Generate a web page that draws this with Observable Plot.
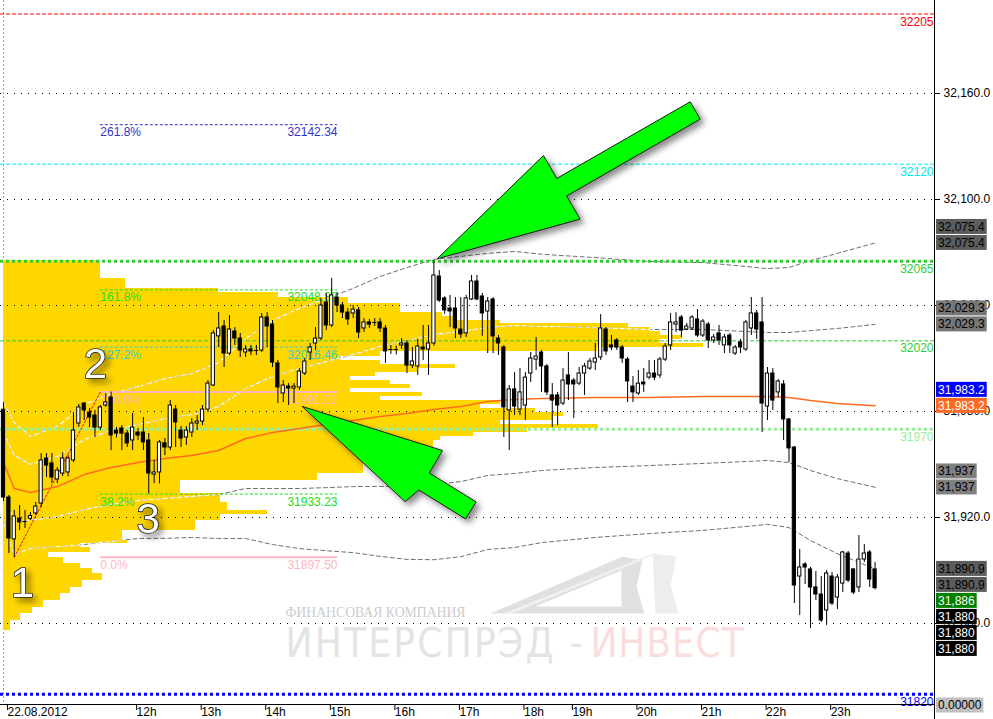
<!DOCTYPE html>
<html><head><meta charset="utf-8">
<script src="https://cdn.jsdelivr.net/npm/d3@7"></script>
<script src="https://cdn.jsdelivr.net/npm/@observablehq/plot@0.6"></script>
<style>
html,body{margin:0;padding:0;background:#fff;}
#chart{width:993px;height:719px;overflow:hidden;}
</style></head>
<body><div id="chart"></div>
<script>
// ---------------- DATA ----------------
const barOpen = [31981,31931.3,31907.6,31919.4,31917.7,31919.3,31922.3,31927.9,31953.4,31950.6,
31941.5,31944.9,31945.5,31952.3,31973.2,31984.5,31979.4,31977.7,31970.9,31983.4,
31987.9,31969.2,31970.4,31967.5,31963.6,31968.1,31968.1,31963.6,31944.3,31945.5,
31962,31959.6,31981.1,31969.2,31965.3,31968.1,31973.2,31974.3,31981.1,31994.7,
32022.5,32028.1,32012.8,32025.3,32021.3,32013.4,32015.1,32014.5,32014.5,32033.2,
32029.2,32007.2,31990.2,31994.1,31993,31993.6,32001.5,32013.4,32018.5,32021.3,
32041.7,32028.7,32044.5,32040,32036,32035.5,32037.2,32027,32030.4,32030.4,
32030.4,32027,32015.1,32015.1,32017.4,32018.5,32006,32005.5,32016.2,32015.1,
32018.5,32056.4,32044,32038.3,32038.3,32026.4,32024.2,32043.4,32053.6,32045.1,
32036.6,32043.4,32021.3,32016.2,31980.6,31992.5,31981.1,31983.4,32001.5,32009.4,
32013.4,32005.5,31989.1,31989.1,31984.5,32000.4,31997.5,31995.8,32001.5,32004.3,
32007.7,32010.6,32026.4,32017.4,32020.2,32016.2,32009.4,31994.1,31990.2,31996.4,
31999.2,32001.5,32000.4,32009.4,32017.4,32029.2,32033.2,32026.4,32027,32032.1,
32023,32029.2,32020.2,32024.2,32017.4,32023,32012.8,32019.1,32015.1,32027,
32035.5,32030.4,31982.8,32001.5,31990.8,31995.3,31975.5,31959.6,31886.6,31893.4,
31890.6,31880.4,31876.4,31867.4,31886.6,31874.7,31882.6,31899.6,31890.6,31880.4,
31896.2,31900.2,31890.6];
const barHigh = [31985,31932.5,31924,31926.8,31924,31922.8,31928.5,31956.2,31956.2,31956.2,
31948.3,31956.8,31955,31979.4,31984,31985.1,31981.7,31980.6,31983.4,31990.2,
31991,31971,31972.1,31969.2,31978.9,31970.4,31976.6,31967.5,31952.3,31963.6,
31964.7,31986.2,31983.4,31971.5,31971.5,31976,31977.7,31983.4,31997.5,32025.8,
32036,32031.5,32034.3,32027.5,32024.2,32017.4,32017.4,32017.4,32035.5,32036,
32031.5,32008.9,31997.5,31995.8,31995.8,32004.3,32010,32018.5,32027.5,32044,
32046.8,32055.3,32047.4,32041.7,32038.3,32040,32038.9,32032.6,32032.1,32032.6,
32032.6,32028.7,32017.4,32017,32021.3,32020.2,32016.2,32020.8,32028.7,32028.7,
32065.5,32059.8,32045,32045.7,32044.5,32044.5,32045.7,32057,32057,32046.8,
32044.5,32044.5,32023,32017.4,31994.7,32002.1,32004.3,32002.1,32013.4,32021.9,
32014.5,32006.6,31995.8,31990.8,32004.3,32013.4,31998.7,32004.9,32007.2,32010,
32018.5,32034.9,32027.5,32023,32021.3,32017.4,32010.6,31999.8,32003.2,32004.3,
32008.9,32008.9,32010.6,32018.5,32035.5,32036,32034.3,32029.8,32034.3,32037.7,
32032.1,32030.4,32023.6,32028.7,32023.6,32024.2,32017.4,32020.8,32031.5,32044.5,
32037.2,32044.5,32004.9,32004.3,31998.1,31997.5,31976,31960.2,31901.9,31894.5,
31891.7,31889.4,31886.6,31890,31888.9,31887.7,31900.8,31900.8,31890.9,31909.8,
31904.7,31901.3,31894.5];
const barLow = [31929,31899.6,31897.5,31912.6,31913.8,31918.3,31921.1,31925.7,31942.6,31939.2,
31939.2,31943.2,31943,31951,31971,31974.9,31970.9,31965.3,31969.2,31982.3,
31957.9,31965,31957.9,31959.6,31957.9,31963.6,31957.9,31933.2,31939.2,31939,
31955,31957.9,31959.6,31959.6,31960.8,31965.3,31969.2,31972,31979.4,31994.1,
32016.2,32004.9,32011.7,32017.4,32010.6,32010.6,32011.7,32011.7,32013.4,32016.2,
32004.9,31984.5,31985.1,31983.4,31984.5,31991.9,32000.4,32008.9,32014.5,32020.2,
32025.8,32027.5,32036,32032.6,32028.7,32032.6,32021.3,32024.7,32027,32028.1,
32024.7,32007.2,32012.3,32012,32015.1,32001.5,32004.3,32000.4,32008.9,32000.4,
32017,32041.7,32035,32027.5,32021.3,32021.3,32021.9,32042.8,32042.8,32022.5,
32012.8,32012.8,32011.7,31965.3,31957.9,31977.7,31977.7,31974.9,31996.4,32003.2,
31990.8,31989,31970.9,31972,31983.4,31986.2,31976,31994.7,31989.1,32003.2,
32003.2,32008.9,32011.7,32014.5,32014.5,32007.2,31985.1,31985.1,31989.1,31990.8,
31998,31997.5,31998.7,32008.3,32014.5,32024.7,32021.9,32025.8,32025.8,32021.9,
32021.9,32015.7,32018.5,32017.4,32012.8,32012.8,32011.7,32012.8,32014,32023,
32020.8,31968.1,31974.9,31980.6,31987.9,31963.6,31951.1,31871.3,31864.5,31882.1,
31857.2,31873,31860.6,31858.9,31870.2,31867.9,31877.5,31883.2,31876.4,31877.5,
31894.5,31880.4,31879];
const barClose = [31931.3,31908.1,31920.6,31917.2,31917.7,31920.8,31926.2,31952.3,31949.4,31942.6,
31946.6,31953.4,31953.4,31969.2,31982.3,31980.6,31976.6,31970.9,31982.3,31985.1,
31966.4,31967.5,31967.5,31961.9,31970.9,31966.4,31962.5,31944.9,31945.5,31962.5,
31959.6,31983.4,31973.8,31964.7,31969.2,31973.2,31974.3,31981.1,31995.8,32024.2,
32027,32012.8,32026.4,32021.3,32014.5,32015.1,32014,32014.5,32033.2,32028.1,
32007.7,31993.6,31994.7,31993,31994.1,32002.6,32008.3,32016.2,32021.3,32040,
32028.7,32045.7,32040,32036,32032.1,32037.7,32024.7,32030.4,32029.2,32030.4,
32027,32014,32015.1,32015.1,32018.5,32006,32008.3,32016.8,32015.1,32018.5,
32057,32042.8,32037.2,32036.6,32027,32023.6,32044,32053.6,32043.4,32035.5,
32042.3,32022.5,32018.5,31982.3,31992.5,31982.8,31990.8,31999.2,32010,32011.1,
32005.5,31990.8,31986.2,31983.4,31997.5,31995.3,31995.3,32001.5,32005.5,32008.3,
32010,32027,32014,32016.2,32016.2,32010,31997,31990.8,31995.8,31995.3,
32001.5,31999.2,32009.4,32016.8,32030.4,32030.4,32025.8,32028.1,32033.2,32023,
32030.9,32020.2,32021.9,32020.2,32021.9,32017.4,32016.2,32016.2,32030.4,32035.5,
32026.4,31984.5,32001.5,31986.2,31997,31975.5,31959.1,31881.5,31891.7,31891.7,
31880.4,31876.4,31861.7,31888.3,31871.3,31886,31900.2,31884.3,31877.5,31896.2,
31899.6,31884.9,31880];

// time axis (bar index of each hour mark, 5-minute bars)
const timeTickBars = [0,24,36,48,60,72,84,96,105,117,129,141,153];
const timeTickLabels = ["22.08.2012","12h","13h","14h","15h","16h","17h","18h","19h","20h","21h","22h","23h"];
const priceTicks = [31860,31920,31980,32040,32100,32160];

// volume profile (price band edges top->bottom, and volume per band)
const profileEdges = [32065.5,32055.3,32049.6,32047.4,32044.5,32041.1,32036.0,32033.8,32031.5,32029.8,
32027.5,32025.3,32023.0,32020.8,32018.5,32016.2,32014.0,32011.1,32008.9,32006.6,
32004.3,32002.1,31999.8,31997.5,31995.3,31993.0,31990.8,31988.5,31986.2,31984.0,
31981.7,31979.4,31977.2,31974.9,31972.6,31970.4,31968.1,31965.8,31963.6,31959.1,
31952.3,31944.9,31940.9,31933.6,31928.5,31924.0,31921.7,31918.3,31912.6,31907.0,
31905.3,31903.0,31900.2,31897.4,31894.0,31891.1,31888.3,31884.3,31880.4,31877.0,
31873.0,31869.1,31865.7,31861.7,31856.0];
const profileVolume = [180,227,400,511,641,738,816,840,924,1162,
1203,1221,1262,1221,1301,1104,701,626,701,840,
770,691,645,719,757,645,779,701,924,887,
989,1041,1022,924,1106,974,874,812,799,738,
669,584,329,403,416,491,403,357,221,230,
143,162,84,112,143,165,184,147,125,106,
74,54,32,13];

// VWAP and deviation bands, sampled at bars
const bandBars = [0,2,5,10,15,20,25,30,35,40,45,50,55,60,65,70,75,80,85,90,95,100,110,120,130,138,142,146,150,155,162];
const vwap   = [31951.1,31936.4,31934.2,31937.5,31944.3,31948.3,31951.1,31953.4,31955.1,31957.9,31964.7,31968.1,31970.4,31972.6,31974.9,31977.2,31978.9,31981.1,31982.8,31985.7,31986.8,31987.4,31987.9,31987.9,31988.5,31988.5,31988.5,31987.9,31986.2,31984.5,31983.2];
const upper2 = [31985.1,31973.8,31965.8,31971.5,31983.9,31990.1,31994.1,31998.6,32001.5,32007.7,32021.3,32031.5,32038.4,32044.0,32049.7,32056.4,32061.5,32066.1,32067.8,32069.5,32070.6,32069.0,32067.1,32064.9,32064.3,32062.1,32060.9,32061.5,32065.4,32069.5,32075.4];
const upper1 = [31968.1,31955.1,31950.0,31954.5,31964.1,31969.2,31972.6,31976.0,31978.3,31982.8,31993.0,31999.8,32004.4,32008.3,32012.3,32016.8,32020.2,32023.6,32025.3,32027.6,32028.7,32028.2,32027.5,32026.4,32026.4,32025.3,32024.7,32024.7,32025.8,32027.0,32029.3];
const lower1 = [31934.1,31917.7,31918.4,31920.5,31924.5,31927.4,31929.6,31930.8,31931.9,31933.0,31936.4,31936.4,31936.4,31936.9,31937.5,31937.6,31937.6,31938.6,31940.3,31943.8,31944.9,31946.6,31948.3,31949.4,31950.6,31951.7,31952.3,31951.1,31946.6,31942.0,31937.1];
const lower2 = [31917.1,31899.0,31902.6,31903.5,31904.7,31906.5,31908.1,31908.2,31908.7,31908.1,31908.1,31904.7,31902.4,31901.2,31900.1,31898.0,31896.3,31896.1,31897.8,31901.9,31903.0,31905.8,31908.7,31910.9,31912.7,31914.9,31916.1,31914.3,31907.0,31899.5,31890.9];

// horizontal levels
const levelPrices = [32205,32120,32065,32020,31970,31820];
const levelLabels = ["32205","32120","32065","32020","31970","31820"];
const levelColors = ["#ff0000","#00e8f0","#33cc33","#33cc33","#99ee99","#0000ff"];
const levelThick  = [false,false,true,false,true,true];

// Fibonacci tool
const fibNames  = ["0.0%","38.2%","100.0%","127.2%","161.8%","261.8%"];
const fibPrices = [31897.50,31933.23,31991.02,32016.46,32048.82,32142.34];
const fibValueLabels = ["31897.50","31933.23","31991.02","32016.46","32048.82","32142.34"];
const fibColors = ["#ffb6c1","#22dd22","#ffb6c1","#33cccc","#22dd22","#3333cc"];
const fibSolid  = [true,false,true,false,false,false];
const fibStartBar = 18, fibEndBar = 62.08;
const fibAnchorBars = [2,18], fibAnchorPrices = [31897.50,31991.02];

// point labels 1,2,3
const pointNames = ["1","2","3"];
const pointBars = [3.5,17.1,26.9];
const pointPrices = [31882.4,32006.3,31919.0];

// arrows (bar, price vertices)
const arrow1Bars = [80.67,100.37,102.83,127.64,129.50,104.68,107.14];
const arrow1Prices = [32066.6,32124.9,32111.9,32155.3,32145.5,32102.0,32089.1];
const arrow2Bars = [55.58,81.6,79.14,87.84,85.89,77.18,74.72];
const arrow2Prices = [31982.8,31957.9,31945.2,31928.8,31919.2,31935.6,31929.1];

// right-side price boxes
const boxValues = [32075.4,32075.4,32029.3,32029.3,31983.2,31983.2,31937,31937,31890.9,31890.9,31886,31880,31880,31880];
const boxTexts  = ["32,075.4","32,075.4","32,029.3","32,029.3","31,983.2","31,983.2","31,937","31,937","31,890.9","31,890.9","31,886","31,880","31,880","31,880"];
const boxFills  = ["#5c5c5c","#5c5c5c","#777777","#777777","#0000ff","#ff6a21","#808080","#808080","#5c5c5c","#5c5c5c","#008000","#000000","#000000","#000000"];
const boxInks   = ["#000","#000","#000","#000","#fff","#fff","#000","#000","#000","#000","#fff","#fff","#fff","#fff"];

// watermark logo polygons
const logoDarkBars = [90.52,115.06,118.77,117.66,119.14];
const logoDarkPrices = [31865.7,31897.9,31895.7,31880.9,31865.7];
const logoHoleBars = [98.88,114.87,114.87];
const logoHolePrices = [31869.6,31890.0,31869.6];
const logoStripeBars = [92.94,120.63,121.75,94.42];
const logoStripePrices = [31865.7,31899.6,31899.6,31865.7];
const logoSailBars = [120.63,125.09,123.98,125.46,121.19];
const logoSailPrices = [31899.6,31897.9,31881.5,31865.7,31865.7];

// ---------------- BUILD ----------------
const X0 = -0.5576, X1 = 173.048, Y0 = 31814.15, Y1 = 32212.64;
const candles = barOpen.map((o,i)=>({i, o, h: barHigh[i], l: barLow[i], c: barClose[i]}));
const bodies = candles.filter(d => d.o !== d.c);
const dojis = candles.filter(d => d.o === d.c);
const profile = profileVolume.map((v,k)=>({hi: profileEdges[k], lo: profileEdges[k+1], vol: v}));
const VOL_TO_BARS = 0.1;
const bandRows = Object.entries({upper2, upper1, lower1, lower2})
  .flatMap(([name, vals]) => vals.map((p,k)=>({band:name, i: bandBars[k], p})));
const vwapRows = vwap.map((p,k)=>({i: bandBars[k], p}));
const levels = levelPrices.map((p,k)=>({p, label: levelLabels[k], color: levelColors[k], thick: levelThick[k]}));
const fibs = fibPrices.map((p,k)=>({p, name: fibNames[k], val: fibValueLabels[k], color: fibColors[k], solid: fibSolid[k]}));
const fibAnchor = fibAnchorBars.map((b,k)=>({i:b, p: fibAnchorPrices[k]}));
const points = pointNames.map((t,k)=>({t, i: pointBars[k], p: pointPrices[k]}));
const arrows = [
  ...arrow1Bars.map((b,k)=>({id:1, i:b, p: arrow1Prices[k]})),
  ...arrow2Bars.map((b,k)=>({id:2, i:b, p: arrow2Prices[k]}))
];
const poly = (bars, prices) => bars.map((b,k)=>({i:b, p: prices[k]}));
const tickLabelMap = new Map(timeTickBars.map((b,k)=>[b, timeTickLabels[k]]));

const FONT = "'Liberation Sans', Arial, sans-serif";

const chart = Plot.plot({
  width: 993, height: 719,
  marginLeft: 0, marginRight: 59, marginTop: 0, marginBottom: 15,
  x: {domain: [X0, X1]},
  y: {domain: [Y0, Y1]},
  color: {type: "identity"},
  style: {fontFamily: FONT, fontSize: "12px", background: "#fff", color: "#000", overflow: "visible"},
  marks: [
    // watermark
    Plot.line(poly(logoDarkBars, logoDarkPrices), {x:"i", y:"p", fill:"#e0e0e0", stroke:"none", curve:"linear-closed"}),
    Plot.line(poly(logoHoleBars, logoHolePrices), {x:"i", y:"p", fill:"#ffffff", stroke:"none", curve:"linear-closed"}),
    Plot.line(poly(logoStripeBars, logoStripePrices), {x:"i", y:"p", fill:"#f0f0f0", stroke:"none", curve:"linear-closed"}),
    Plot.line(poly(logoSailBars, logoSailPrices), {x:"i", y:"p", fill:"#ededed", stroke:"none", curve:"linear-closed"}),
    Plot.text(["ФИНАНСОВАЯ КОМПАНИЯ"], {x: 52.42, y: 31863.4, text: d=>d, textAnchor:"start", lineAnchor:"bottom",
      fontFamily:"'Liberation Serif', 'DejaVu Serif', serif", fontSize: 14, fill:"#cccccc", ariaDescription:"wm-small"}),
    Plot.text(["ИНТЕРСПРЭД -"], {x: 52.42, y: 31840.8, text: d=>d, textAnchor:"start", lineAnchor:"bottom",
      fontFamily:"'Liberation Sans Narrow', 'DejaVu Sans Condensed', sans-serif", fontSize: 40, fill:"#e4e4e4", ariaDescription:"wm-big1"}),
    Plot.text(["ИНВЕСТ"], {x: 109.1, y: 31840.8, text: d=>d, textAnchor:"start", lineAnchor:"bottom",
      fontFamily:"'Liberation Sans Narrow', 'DejaVu Sans Condensed', sans-serif", fontSize: 40, fill:"#fadede", ariaDescription:"wm-big2"}),

    // day separator
    Plot.ruleX([0], {stroke:"#9a9a9a", strokeDasharray:"2,2"}),

    // volume profile
    Plot.rect(profile, {x1: 0, x2: d => d.vol * VOL_TO_BARS, y1: "lo", y2: "hi", fill: "#ffd700",
      shapeRendering: "crispEdges", ariaDescription: "profile"}),

    // deviation bands: gray on white, light inside profile
    Plot.line(bandRows, {x:"i", y:"p", z:"band", stroke:"#6e6e6e", strokeWidth:1, strokeDasharray:"4,3", ariaDescription:"bands"}),
    Plot.line(bandRows, {x:"i", y:"p", z:"band", stroke:"#fffdf2", strokeWidth:1.3, strokeDasharray:"4,3", ariaDescription:"bands-light"}),

    // grid
    Plot.ruleY(priceTicks, {stroke:"#000", strokeDasharray:"1,6"}),

    // levels
    Plot.ruleY(levels.filter(d=>!d.thick), {y:"p", stroke:"color", strokeWidth:1, strokeDasharray:"4,2"}),
    Plot.ruleY(levels.filter(d=>d.thick), {y:"p", stroke:"color", strokeWidth:3, strokeDasharray:"3,3"}),
    Plot.text(levels, {x: X1, y:"p", text:"label", fill:"color", textAnchor:"end", lineAnchor:"top", dx:-1, dy:3, fontSize:12}),

    // fibonacci
    Plot.ruleY(fibs.filter(d=>d.solid), {y:"p", x1: fibStartBar, x2: fibEndBar, stroke:"color", strokeWidth:2}),
    Plot.ruleY(fibs.filter(d=>!d.solid), {y:"p", x1: fibStartBar, x2: fibEndBar, stroke:"color", strokeWidth:1, strokeDasharray:"3,2"}),
    Plot.text(fibs, {x: fibStartBar, y:"p", text:"name", fill:"color", textAnchor:"start", lineAnchor:"top", dy:3, fontSize:12}),
    Plot.text(fibs, {x: fibEndBar, y:"p", text:"val", fill:"color", textAnchor:"end", lineAnchor:"top", dy:3, fontSize:12}),
    Plot.line(fibAnchor, {x:"i", y:"p", stroke:"#ff0000", strokeWidth:1, strokeDasharray:"2,2"}),

    // VWAP
    Plot.line(vwapRows, {x:"i", y:"p", stroke:"#ff6a21", strokeWidth:1.5}),

    // candles
    Plot.ruleX(candles, {x:"i", y1:"l", y2:"h", stroke:"#000", strokeWidth:1}),
    Plot.rect(bodies, {x1: d=>d.i-0.3, x2: d=>d.i+0.3, y1:"o", y2:"c",
      fill: d => d.c > d.o ? "#ffffff" : "#000000", stroke:"#000", strokeWidth:1}),
    Plot.ruleY(dojis, {y:"o", x1: d=>d.i-0.4, x2: d=>d.i+0.4, stroke:"#000", strokeWidth:1}),

    // arrows and point labels
    Plot.line(arrows, {x:"i", y:"p", z:"id", fill:"#00ff00", stroke:"#1a1a1a", strokeWidth:1,
      strokeLinejoin:"miter", curve:"linear-closed", ariaDescription:"arrows"}),
    Plot.text(points, {x:"i", y:"p", text:"t", fontSize:42, fill:"#ffffff", stroke:"#222222", strokeWidth:1.6,
      fontFamily: FONT, lineAnchor:"middle", ariaDescription:"digits"}),

    // frame lines and axes
    Plot.ruleY([Y0], {stroke:"#000"}),
    Plot.ruleX([X1], {y1: Y0 - 15/1.76667, y2: Y1, stroke:"#000"}),
    Plot.axisY({anchor:"right", ticks: priceTicks, tickFormat: d3.format(",.1f"), tickSize:5, tickPadding:4, label:null}),
    Plot.axisX({anchor:"bottom", ticks: timeTickBars, tickFormat: d => tickLabelMap.get(d) ?? "",
      tickSize:6, tickPadding:-3, textAnchor:"start", dx:4, label:null})
  ]
});
document.getElementById("chart").append(chart);

// ---------------- POST ----------------
const svg = d3.select(chart);
const byDesc = (name) => svg.select(`g[aria-description="${name}"]`);

try {
  const defs = svg.insert("defs", ":first-child");
  const clip = defs.append("clipPath").attr("id", "profileClip");
  const profG = byDesc("profile");
  if (!profG.empty()) {
    const tr = profG.attr("transform");
    if (tr) clip.attr("transform", tr);
    profG.selectAll("rect").each(function(){ clip.node().appendChild(this.cloneNode(false)); });
  }
  const light = byDesc("bands-light");
  if (!light.empty()) light.attr("clip-path", "url(#profileClip)");
} catch (e) { console.log(e); }

svg.selectAll('g[aria-description="arrows"], g[aria-description="digits"]')
  .style("filter", "drop-shadow(4px 4px 3px rgba(0,0,0,0.45))");

const setLen = (name, len, adj) => { const t = byDesc(name).select("text"); if (!t.empty()) t.attr("textLength", len).attr("lengthAdjust", adj); };
setLen("wm-small", 180, "spacingAndGlyphs");
setLen("wm-big1", 297, "spacing");
setLen("wm-big2", 153, "spacing");

// right price boxes, stacked to avoid overlap
const yS = chart.scale("y");
const boxes = boxValues.map((v,k)=>({v, text: boxTexts[k], fill: boxFills[k], ink: boxInks[k], want: yS.apply(v)}));
const up = boxes.filter(b => b.v > 31900), down = boxes.filter(b => b.v <= 31900);
for (let k = up.length - 1, next = Infinity; k >= 0; k--) { up[k].y = Math.min(up[k].want, next - 16); next = up[k].y; }
for (let k = 0, prev = -Infinity; k < down.length; k++) { down[k].y = Math.max(down[k].want, prev + 16); prev = down[k].y; }
const zeroBox = {text: "0.00000", fill: "#c0c0c0", ink: "#000", y: yS.apply(Y0) + 1};
const layer = svg.append("g").attr("font-family", FONT).attr("font-size", 12).attr("text-anchor", "start");
for (const b of [...up, ...down, zeroBox]) {
  const g = layer.append("g");
  const r = g.append("rect");
  const t = g.append("text").attr("x", 938).attr("y", b.y).attr("dy", "0.35em")
    .attr("text-anchor", "start").attr("fill", b.ink).text(b.text);
  const w = t.node().getComputedTextLength();
  r.attr("x", 936).attr("y", b.y - 7.5).attr("width", w + 4).attr("height", 15).attr("fill", b.fill);
}
</script></body></html>
